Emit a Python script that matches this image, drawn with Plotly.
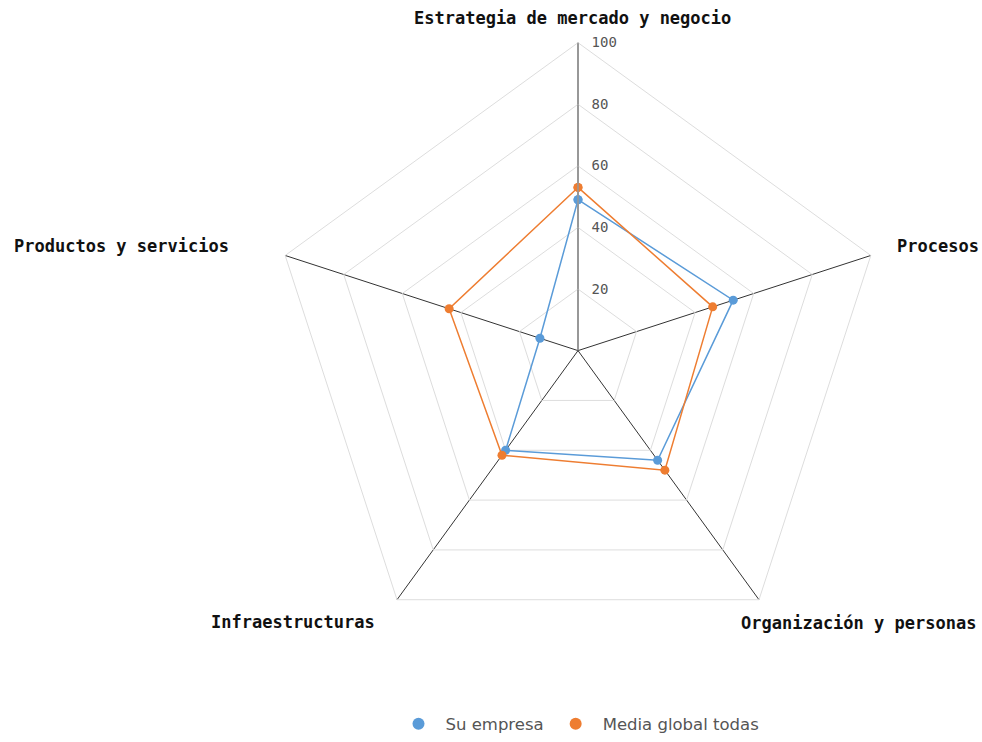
import plotly.graph_objects as go

# Dimensions of the assessment (clockwise from the top)
categories = [
    "Estrategia de mercado y negocio",
    "Procesos",
    "Organización y personas",
    "Infraestructuras",
    "Productos y servicios",
]
su_empresa = [49, 53, 44, 40, 13]
media_global = [53, 46, 48, 42, 44]
radial_ticks = [20, 40, 60, 80, 100]

BLUE = "#5a9bd8"
ORANGE = "#ee7d31"


def closed(values):
    return values + values[:1]


fig = go.Figure()

for name, values, color in [
    ("Su empresa", su_empresa, BLUE),
    ("Media global todas", media_global, ORANGE),
]:
    fig.add_trace(go.Scatterpolar(
        r=closed(values),
        theta=closed(categories),
        mode="lines+markers",
        name=name,
        legendgroup=name,
        showlegend=False,
        line=dict(color=color, width=1.5),
        marker=dict(color=color, size=9),
    ))
    # marker-only legend entry
    fig.add_trace(go.Scatterpolar(
        r=[None], theta=[None], mode="markers", name=name,
        legendgroup=name, marker=dict(color=color, size=9),
    ))

label_font = dict(family="DejaVu Sans Mono", size=17, color="#111", weight="bold")
label_pos = {
    "Estrategia de mercado y negocio": (572, 18, "center"),
    "Procesos": (895, 248, "left"),
    "Organización y personas": (858, 627, "center"),
    "Infraestructuras": (293, 626, "center"),
    "Productos y servicios": (231, 248, "right"),
}
W, H = 982, 742
for cat in categories:
    px, py, anchor = label_pos[cat]
    fig.add_annotation(
        text=cat, x=px / W, y=1 - py / H, xref="paper", yref="paper",
        xanchor=anchor, yanchor="middle", showarrow=False, font=label_font,
    )

cx, cy, rad = 578, 353, 310
fig.update_layout(
    width=W, height=H,
    margin=dict(l=0, r=0, t=0, b=0),
    paper_bgcolor="white",
    plot_bgcolor="white",
    showlegend=True,
    legend=dict(
        orientation="h", x=cx / W, xanchor="center", y=1 - 729 / H, yanchor="middle",
        font=dict(family="DejaVu Sans", size=16.5, color="#555"),
        itemsizing="constant", itemwidth=44,
    ),
    polar=dict(
        domain=dict(x=[(cx - rad) / W, (cx + rad) / W],
                    y=[1 - (cy + rad) / H, 1 - (cy - rad) / H]),
        gridshape="linear",
        bgcolor="white",
        angularaxis=dict(
            rotation=90, direction="clockwise",
            showticklabels=False, ticks="",
            showgrid=True, gridcolor="#333", gridwidth=1,
            showline=True, linecolor="#dddddd", linewidth=1,
        ),
        radialaxis=dict(
            range=[0, 100], angle=90, tickangle=90,
            tickvals=radial_ticks, ticktext=[str(v) for v in radial_ticks],
            showgrid=True, gridcolor="#dddddd", gridwidth=1,
            showline=True, linecolor="#999", linewidth=1.5,
            ticks="outside", ticklen=10, tickcolor="rgba(0,0,0,0)",
            side="clockwise",
            tickfont=dict(family="DejaVu Sans Mono", size=14, color="#555"),
        ),
    ),
)

fig.write_html("out.html")
